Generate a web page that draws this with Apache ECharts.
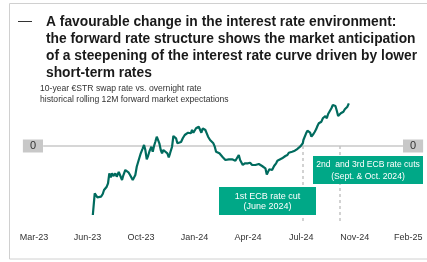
<!DOCTYPE html>
<html><head><meta charset="utf-8">
<script src="https://cdn.jsdelivr.net/npm/echarts@6/dist/echarts.min.js"></script>
<style>html,body{margin:0;padding:0;background:#fff}#c{width:427px;height:262px}</style>
</head><body><div id="c"></div>
<script>
// Tick labels (equally spaced, every 14 weeks)
const tickLabels = ['Mar-23','Jun-23','Oct-23','Jan-24','Apr-24','Jul-24','Nov-24','Feb-25'];
// x: weeks from the Mar-23 tick; y: spread level relative to 0 (chart units)
const weeks = [15.4,15.9,16.6,17.1,17.55,18.0,18.34,18.68,19.04,19.38,19.72,20.09,20.43,20.77,21.29,21.66,22.19,22.71,23.05,23.39,23.91,24.28,24.8,25.15,25.49,25.85,26.19,26.53,26.9,27.42,27.95,28.47,28.81,29.15,29.52,29.86,30.2,30.72,31.09,31.43,31.77,32.14,32.48,32.82,33.19,33.53,33.87,34.39,34.92,35.28,35.62,36.15,36.49,36.85,37.19,37.54,38.06,38.5,38.95,39.47,39.81,40.34,40.68,41.04,41.38,41.73,42.09,42.43,42.77,43.14,43.48,43.82,44.19,44.53,44.87,45.23,45.58,46.1,46.62,46.96,47.33,47.67,48.01,48.54,48.9,49.43,49.77,50.11,50.63,51.0,51.34,51.86,52.2,52.73,53.25,53.62,53.96,54.3,54.66,55.19,55.53,56.05,56.58,57.1,57.44,57.97,58.49,58.86,59.2,59.72,60.24,60.58,60.95,61.29,61.63,62.0,62.34,62.86,63.39,63.73,64.25,64.96,65.48,65.82,66.35,66.71,67.05,67.58,67.92,68.28,68.81,69.33,69.67,70.01,70.38,70.54,70.9,71.24,71.59,71.95,72.29,72.63,73.0,73.16,73.52,73.86,74.21,74.57,74.91,75.25,75.62,75.96,76.3,76.67,77.01,77.53,77.87,78.24,78.58,78.92,79.28,79.63,79.97,80.33,80.67,81.01,81.38,81.72,82.06,82.43];
const spread = [-69,-47.3,-51.3,-52.7,-50.7,-48,-44,-45.3,-40.7,-37.3,-27.3,-31.3,-27.3,-30,-27.3,-30.7,-26,-27.3,-34,-29.3,-24,-24,-26.7,-29,-30.7,-34,-32.3,-29,-20.7,-14,-7.3,-2.3,1,-4,-13.3,-10,-5.7,-0.7,-5.7,0,4.3,9.3,11,2.7,-4,-7.3,-4,-5.7,-7.3,-11.3,-7.3,-0.7,10,9.3,7.7,2.7,4.3,4,7.7,11,12.7,13.3,15.3,12.7,16,13.3,15.3,17.7,16,19.3,17.7,13.3,17.7,19.3,16,12.7,9.3,6,4.3,2.7,-0.7,-5.7,-6.7,-7.3,-9,-11.3,-12.3,-14,-12.3,-13.3,-14.7,-13.3,-13.3,-14.7,-12.7,-9,-14,-15.7,-19,-17.3,-16.7,-17.3,-16.7,-19,-20.7,-19,-17.3,-18,-19,-20,-20.7,-22.3,-28.5,-25.7,-23.3,-22.3,-24,-20,-17.3,-14.7,-14,-12.3,-10.7,-10,-9,-6.7,-5.7,-5.7,-4,-4.7,-3.3,-2.7,-0.7,1,2.7,6,7.7,12.7,15.3,14.3,13.3,9.3,10,12,14.3,16.7,20,22.7,24,24.3,27.7,29.3,30,27.7,32,32.7,37.7,41,41.3,40,35.3,30,31,32.7,32,34.3,36.7,37.7,39.3,42.7];
// ECB rate cut marker positions (weeks) and annotation texts
const cutWeeks = [70.4, 80.0];
const cutLineBottom = -77;
const zeroLineSpan = [2.4, 96.6];
const titleLines = ['A favourable change in the interest rate environment:','the forward rate structure shows the market anticipation','of a steepening of the interest rate curve driven by lower','short-term rates'];
const subtitleLines = ['10-year €STR swap rate vs. overnight rate','historical rolling 12M forward market expectations'];
const note1 = ['1st ECB rate cut','(June 2024)'];
const note2 = ['2nd  and 3rd ECB rate cuts','(Sept. & Oct. 2024)'];

const data = weeks.map((w,i)=>[w, spread[i]]);
const FONT = '"Liberation Sans", Arial, sans-serif';
const chart = echarts.init(document.getElementById('c'));
const zeroLabel = (margin) => ({
  customValues:[0], formatter: v => '0', margin: margin,
  backgroundColor:'#c8c8c8', color:'#333', fontSize:11, fontFamily:FONT,
  padding:[1,7,1,7], lineHeight:11
});
chart.setOption({
  animation:false,
  textStyle:{fontFamily:FONT},
  title:[
    {text:titleLines.join('\n'), left:46, top:13.5, padding:0, textStyle:{fontSize:13.8, fontWeight:'bold', color:'#1a1a1a', lineHeight:17, fontFamily:FONT}},
    {text:subtitleLines.join('\n'), left:40, top:83, padding:0, textStyle:{fontSize:8.6, fontWeight:'normal', color:'#333', lineHeight:11, fontFamily:FONT}}
  ],
  grid:{left:34, right:18.7, top:80, bottom:37},
  xAxis:{type:'value', min:0, max:98, interval:14,
    axisLine:{show:false}, axisTick:{show:false}, splitLine:{show:false},
    axisLabel:{formatter:v=>tickLabels[Math.round(v/14)], color:'#333', fontSize:9, margin:8, fontFamily:FONT}},
  yAxis:[
    {type:'value', min:-79, max:66, position:'left', axisLine:{show:false}, axisTick:{show:false}, splitLine:{show:false}, axisLabel:zeroLabel(-9)},
    {type:'value', min:-79, max:66, position:'right', axisLine:{show:false}, axisTick:{show:false}, splitLine:{show:false}, axisLabel:Object.assign(zeroLabel(-5.3),{align:'left'})}
  ],
  series:[
    {type:'line', data:zeroLineSpan.map(x=>[x,0]), symbol:'none', lineStyle:{color:'#c8c8c8', width:1.5}, z:1, silent:true},
    {type:'line', data:data, symbol:'none', lineStyle:{color:'#006b5e', width:2.2}, z:3,
      markLine:{silent:true, symbol:'none', label:{show:false},
        lineStyle:{color:'#c4c4c4', type:[3,3], width:1.5},
        data: cutWeeks.map(w=>[{coord:[w,0]},{coord:[w,cutLineBottom]}])}}
  ],
  graphic:[
    {type:'rect', shape:{x:9.5,y:3.5,width:430,height:255.5}, style:{fill:'none', stroke:'#d0d0d0', lineWidth:1}, z:0},
    {type:'text', left:18, top:14.5, style:{text:'—', font:'14px '+FONT, fill:'#333'}},
    {type:'rect', shape:{x:219,y:187,width:97,height:28}, style:{fill:'#00a887'}, z:10},
    {type:'text', x:267.5, y:201.5, style:{text:note1.join('\n'), font:'9px '+FONT, fill:'#fff', align:'center', verticalAlign:'middle', lineHeight:10.5}, z:11},
    {type:'rect', shape:{x:313,y:156,width:110,height:28}, style:{fill:'#00a887'}, z:10},
    {type:'text', x:368, y:170.5, style:{text:note2.join('\n'), font:'8.6px '+FONT, fill:'#fff', align:'center', verticalAlign:'middle', lineHeight:11.5}, z:11}
  ]
});
</script></body></html>
